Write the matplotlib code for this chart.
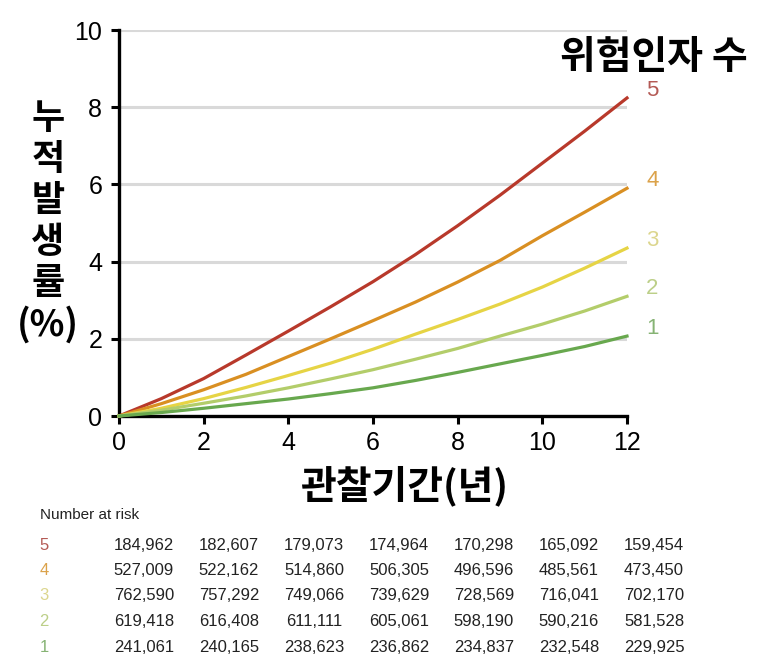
import matplotlib
matplotlib.use("Agg")
from matplotlib import pyplot as plt

# 관찰기간 (년) and 누적발생률 (%) by number of risk factors
years = [0, 1, 2, 3, 4, 5, 6, 7, 8, 9, 10, 11, 12]
risk5 = [0, 0.45, 0.97, 1.58, 2.20, 2.83, 3.48, 4.18, 4.93, 5.72, 6.55, 7.38, 8.24]
risk4 = [0, 0.32, 0.68, 1.08, 1.54, 2.00, 2.47, 2.95, 3.47, 4.03, 4.67, 5.28, 5.90]
risk3 = [0, 0.20, 0.45, 0.74, 1.05, 1.37, 1.73, 2.12, 2.50, 2.90, 3.34, 3.83, 4.35]
risk2 = [0, 0.15, 0.33, 0.52, 0.73, 0.96, 1.20, 1.47, 1.75, 2.07, 2.38, 2.72, 3.10]
risk1 = [0, 0.09, 0.20, 0.32, 0.44, 0.58, 0.73, 0.92, 1.13, 1.35, 1.57, 1.80, 2.07]

group_names = ["5", "4", "3", "2", "1"]
line_colors = ["#b8392b", "#d98f22", "#e6d445", "#b3cd6a", "#68a84e"]
label_colors = ["#b45a55", "#dba24a", "#dcd68e", "#bccf88", "#86b374"]

at_risk_5 = ["184,962", "182,607", "179,073", "174,964", "170,298", "165,092", "159,454"]
at_risk_4 = ["527,009", "522,162", "514,860", "506,305", "496,596", "485,561", "473,450"]
at_risk_3 = ["762,590", "757,292", "749,066", "739,629", "728,569", "716,041", "702,170"]
at_risk_2 = ["619,418", "616,408", "611,111", "605,061", "598,190", "590,216", "581,528"]
at_risk_1 = ["241,061", "240,165", "238,623", "236,862", "234,837", "232,548", "229,925"]

kor = ["Noto Sans CJK KR", "DejaVu Sans"]
plt.rcParams["font.family"] = ["Liberation Sans", "DejaVu Sans"]

fig = plt.figure(figsize=(7.67, 6.70), dpi=100)
ax = fig.add_axes([119/767, 1 - 416/670, (627-119)/767, (416-30)/670])

series = [risk5, risk4, risk3, risk2, risk1]
for ys, c, lc, name in zip(series, line_colors, label_colors, group_names):
    ax.plot(years, ys, color=c, lw=2.3, clip_on=False, zorder=3,
            solid_joinstyle="round")
    ax.text(12.45, ys[-1] + 0.2, name, color=lc, fontsize=16,
            ha="left", va="center", clip_on=False)

ax.set_xlim(0, 12)
ax.set_ylim(0, 10)
ax.set_xticks(range(0, 13, 2))
ax.set_yticks(range(0, 11, 2))
ax.yaxis.grid(True, color="#d9d9d9", lw=2.2)
ax.set_axisbelow(True)
for s in ["top", "right"]:
    ax.spines[s].set_visible(False)
for s in ["left", "bottom"]:
    ax.spines[s].set_linewidth(2.4)
ax.tick_params(direction="out", length=6, width=2.2, labelsize=18, pad=5,
               colors="black")
ax.tick_params(axis="y", pad=6)

fig.text(0.975, 1 - 57/670, "위험인자 수", family=kor, fontweight="bold",
         fontsize=28, ha="right", va="center")
fig.text(405/767, 1 - 486/670, "관찰기간(년)", family=kor, fontweight="bold",
         fontsize=28, ha="center", va="center")
fig.text(48/767, 1 - 222/670, "누\n적\n발\n생\n률\n(%)", family=kor,
         fontweight="bold", fontsize=26, ha="center", va="center",
         linespacing=1.14)

# Number at risk table
fig.text(40/767, 1 - 515/670, "Number at risk", fontsize=11, color="#222222",
         ha="left", va="center")
rows = [at_risk_5, at_risk_4, at_risk_3, at_risk_2, at_risk_1]
for i, (row, name, lc) in enumerate(zip(rows, group_names, label_colors)):
    y = 1 - (545 + i*25.5)/670
    fig.text(44/767, y, name, fontsize=12, color=lc, ha="center", va="center")
    for j, v in enumerate(row):
        fig.text((144 + j*85)/767, y, v, fontsize=12, color="#222222",
                 ha="center", va="center")

fig.savefig("out.png", dpi=100)
